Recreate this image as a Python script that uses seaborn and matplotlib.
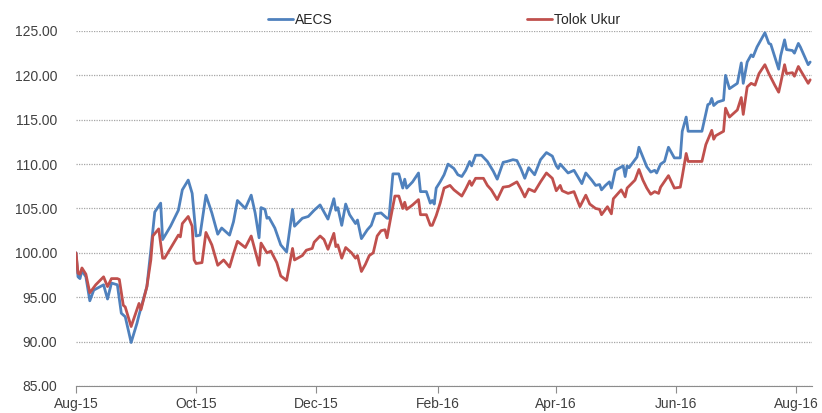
import pandas as pd
import seaborn as sns
import matplotlib.pyplot as plt
import matplotlib.dates as mdates

# Données (jours depuis le 1er août 2015)
start = pd.Timestamp("2015-08-01")

aecs_days = [0, 1, 2, 3, 5, 7, 9, 14, 16, 18, 21, 23, 25, 28, 31, 32, 36, 38, 40, 43,
             44, 48, 52, 54, 57, 59, 61, 63, 66, 69, 72, 74, 78, 80, 82, 86, 89, 91, 93, 94,
             96, 97, 98, 101, 104, 107, 110, 111, 115, 118, 121, 124, 128, 131, 132, 133, 135, 137, 139, 142,
             143, 145, 148, 150, 152, 155, 158, 159, 161, 164, 166, 167, 168, 171, 174, 175, 178, 180, 181, 182,
             183, 185, 187, 189, 192, 194, 196, 198, 200, 201, 203, 206, 209, 212, 214, 217, 219, 222, 224, 226,
             228, 230, 233, 236, 239, 242, 244, 245, 246, 250, 253, 257, 259, 262, 264, 266, 267, 269, 271, 272,
             274, 278, 279, 280, 281, 285, 286, 288, 290, 292, 294, 295, 297, 299, 301, 304, 307, 308, 310, 311,
             318, 321, 322, 323, 324, 326, 329, 330, 332, 336, 338, 339, 341, 343, 344, 346, 350, 352, 353, 355,
             357, 358, 360, 361, 364, 365, 367, 368, 372, 373]
aecs_vals = [100.0, 97.3, 97.1, 98.0, 97.3, 94.6, 95.8, 96.4, 94.8, 96.6, 96.4, 93.2, 92.8, 89.9, 92.1, 93.0, 96.2, 100.3, 104.6, 105.6,
             101.5, 103.0, 104.8, 107.1, 108.2, 106.7, 101.9, 102.0, 106.5, 104.5, 102.1, 102.8, 102.0, 103.5, 105.9, 105.0, 106.5, 104.5, 101.7, 105.1,
             104.9, 103.9, 104.0, 102.8, 100.9, 100.1, 104.9, 103.0, 103.9, 104.1, 104.8, 105.4, 103.8, 106.1, 104.8, 105.1, 103.1, 105.5, 104.3, 103.3,
             103.7, 101.6, 102.6, 103.1, 104.4, 104.5, 103.9, 103.9, 108.9, 108.9, 107.3, 108.3, 107.3, 108.0, 109.0, 106.9, 106.9, 105.6, 105.9, 105.5,
             107.3, 108.0, 108.8, 110.0, 109.5, 108.8, 108.6, 109.3, 110.3, 109.8, 111.0, 111.0, 110.3, 109.2, 108.3, 110.2, 110.3, 110.5, 110.4, 109.5,
             108.4, 109.6, 108.8, 110.5, 111.3, 110.9, 109.8, 109.5, 110.0, 109.0, 109.3, 107.8, 109.0, 108.2, 107.6, 107.7, 107.1, 107.6, 108.0, 107.3,
             109.3, 109.8, 108.6, 109.8, 109.6, 110.8, 111.9, 110.8, 109.7, 109.1, 109.3, 109.0, 110.0, 110.3, 111.9, 110.7, 110.7, 113.7, 115.3, 113.7,
             113.7, 116.7, 116.8, 117.4, 116.6, 117.0, 117.2, 120.0, 118.5, 119.1, 121.4, 119.1, 121.5, 122.3, 122.1, 123.2, 124.8, 123.6, 123.5, 122.1,
             120.7, 122.2, 124.0, 122.9, 122.8, 122.5, 123.6, 123.2, 121.2, 121.5]

tolok_days = [0, 1, 2, 3, 5, 7, 10, 14, 16, 18, 21, 22, 24, 25, 28, 32, 33, 36, 38, 39,
              42, 44, 45, 52, 53, 54, 57, 59, 60, 61, 64, 66, 69, 72, 75, 78, 80, 82, 86, 89,
              93, 94, 97, 99, 102, 104, 107, 110, 111, 115, 117, 120, 121, 124, 126, 128, 131, 132, 133, 135,
              137, 140, 142, 143, 145, 147, 149, 151, 153, 155, 157, 158, 160, 162, 164, 166, 167, 168, 171, 174,
              175, 178, 180, 181, 183, 185, 187, 190, 192, 196, 198, 200, 201, 203, 207, 209, 211, 214, 217, 220,
              224, 226, 228, 230, 233, 236, 239, 242, 244, 246, 247, 250, 253, 256, 259, 261, 264, 266, 267, 270,
              272, 273, 277, 279, 280, 284, 286, 288, 290, 292, 294, 296, 297, 301, 304, 307, 308, 310, 311, 318,
              320, 323, 324, 325, 329, 330, 332, 336, 338, 339, 341, 343, 345, 347, 350, 352, 355, 357, 358, 360,
              361, 364, 365, 367, 368, 372, 373]
tolok_vals = [100.0, 97.7, 97.6, 98.3, 97.6, 95.5, 96.4, 97.3, 96.2, 97.1, 97.1, 97.0, 94.1, 93.9, 91.7, 94.3, 93.6, 96.2, 99.2, 101.9,
              102.7, 99.4, 99.4, 102.0, 101.8, 103.3, 104.1, 103.0, 99.2, 98.8, 98.9, 102.3, 100.9, 98.6, 99.2, 98.4, 99.9, 101.3, 100.6, 101.9,
              98.6, 101.1, 100.0, 100.2, 98.9, 97.4, 96.9, 100.5, 99.2, 99.7, 100.3, 100.5, 101.2, 101.9, 101.5, 100.4, 102.2, 100.7, 100.9, 99.4,
              100.6, 100.0, 99.4, 99.7, 97.9, 98.7, 99.7, 100.0, 101.9, 102.5, 102.6, 101.7, 104.1, 106.4, 106.4, 105.0, 105.7, 104.9, 105.4, 106.0,
              104.3, 104.3, 103.1, 103.1, 104.2, 105.6, 107.3, 107.6, 107.1, 106.4, 107.2, 108.1, 107.6, 108.4, 108.4, 107.6, 107.1, 106.0, 107.4, 107.5,
              108.0, 107.2, 106.3, 107.2, 106.9, 108.0, 109.0, 108.4, 107.0, 107.6, 107.0, 106.7, 106.9, 105.2, 106.5, 105.5, 105.0, 104.9, 104.3, 105.2,
              104.4, 106.1, 107.1, 106.3, 107.3, 108.2, 109.4, 108.2, 107.3, 106.6, 106.9, 106.7, 107.4, 108.7, 107.3, 107.4, 108.6, 111.2, 110.3, 110.3,
              112.2, 113.8, 112.8, 113.2, 113.7, 116.3, 115.3, 116.1, 117.5, 115.6, 118.7, 119.1, 118.9, 120.2, 121.2, 120.2, 118.9, 118.1, 119.1, 121.2,
              120.2, 120.3, 119.9, 121.0, 120.6, 119.1, 119.5]

df = pd.concat([
    pd.DataFrame({'date': start + pd.to_timedelta(aecs_days, unit='D'), 'valeur': aecs_vals, 'serie': 'AECS'}),
    pd.DataFrame({'date': start + pd.to_timedelta(tolok_days, unit='D'), 'valeur': tolok_vals, 'serie': 'Tolok Ukur'}),
])

sns.set_style("white")
plt.rcParams['font.family'] = ['Liberation Sans', 'DejaVu Sans']

fig = plt.figure(figsize=(8.22, 4.13), dpi=100)
ax = fig.add_axes([0.0925, 0.0654, 0.8955, 0.8596])

sns.lineplot(data=df, x='date', y='valeur', hue='serie',
             palette={'AECS': '#4F81BD', 'Tolok Ukur': '#C0504D'},
             linewidth=2, ax=ax)

ax.set_ylim(85, 125)
ax.set_xlim(start, start + pd.Timedelta(days=374))
ax.set_yticks(range(85, 126, 5))
ax.set_yticklabels([f"{v:.2f}" for v in range(85, 126, 5)])
ax.xaxis.set_major_locator(mdates.MonthLocator(bymonth=[2, 4, 6, 8, 10, 12]))
ax.xaxis.set_major_formatter(mdates.DateFormatter('%b-%y'))
ax.set_xlabel('')
ax.set_ylabel('')

ax.yaxis.grid(True, color='#a6a6a6', linestyle=(0, (1, 1)), linewidth=0.9)
ax.xaxis.grid(False)
for s in ['top', 'right', 'left']:
    ax.spines[s].set_visible(False)
ax.spines['bottom'].set_color('#8c8c8c')
ax.tick_params(axis='x', bottom=True, length=5, color='#8c8c8c', labelsize=10, labelcolor='#404040', pad=3)
ax.tick_params(axis='y', left=False, labelsize=10, labelcolor='#404040', pad=10)

sns.move_legend(ax, 'lower center', bbox_to_anchor=(0.5, 0.975), ncol=2, title=None,
                frameon=False, columnspacing=14, handlelength=1.8, handletextpad=0.15,
                fontsize=10)

fig.savefig('out.png', dpi=100)
